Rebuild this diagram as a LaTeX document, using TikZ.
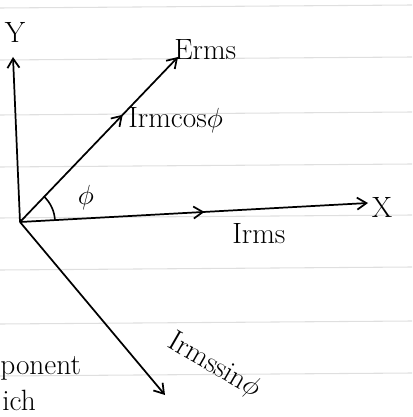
\documentclass[tikz,border=0pt]{standalone}
\usetikzlibrary{arrows.meta,decorations.markings}
\begin{document}
\begin{tikzpicture}[x=0.75pt,y=-0.75pt,
  vec/.style={line width=1.3pt,-{Straight Barb[length=7pt,width=9pt]}},
  midarrow/.style={postaction={decorate},decoration={markings,mark=at position #1 with {\arrow{Straight Barb[length=7pt,width=9pt]}}}},
  lbl/.style={font=\fontsize{22}{24}\selectfont,inner sep=0pt},
  rule/.style={gray!25,line width=0.8pt}]
\useasboundingbox (0,0) rectangle (412,417);
\clip (0,0) rectangle (412,417);
% notebook rules
\foreach \yy in {8,60,115,167,218,270,324,376}
  \draw[rule] (0,\yy) -- (412,\yy-3);
% points
\coordinate (O) at (20,222);
\coordinate (Yt) at (13,57);
\coordinate (Xt) at (368,203);
\coordinate (Et) at (178,57);
\coordinate (St) at (165,395);
% vectors
\draw[vec] (O) -- (Yt);
\draw[vec,midarrow=0.53] (O) -- (Xt);
\draw[vec,midarrow=0.65] (O) -- (Et);
\draw[vec] (O) -- (St);
% angle arc
\draw[line width=1.2pt] (O) ++(-3:35) arc (-3:-46:35);
% labels
\node[lbl] (ly) at (15,32) {Y};
\node[lbl] (lx) at (382,207) {X};
\node[lbl,anchor=south west] (le) at (174,60) {Erms};
\node[lbl,anchor=west] (lc) at (128,120) {Irmcos$\phi$};
\node[lbl,anchor=west] (li) at (232,234) {Irms};
\node[lbl] (lphi) at (86,198) {$\phi$};
\node[lbl,rotate=-30] (ls) at (214,366) {Irmssin$\phi$};
\node[lbl,anchor=west] (lp) at (0,368) {ponent};
\node[lbl,anchor=west] (lw) at (2,400) {ich};
\end{tikzpicture}
\end{document}
